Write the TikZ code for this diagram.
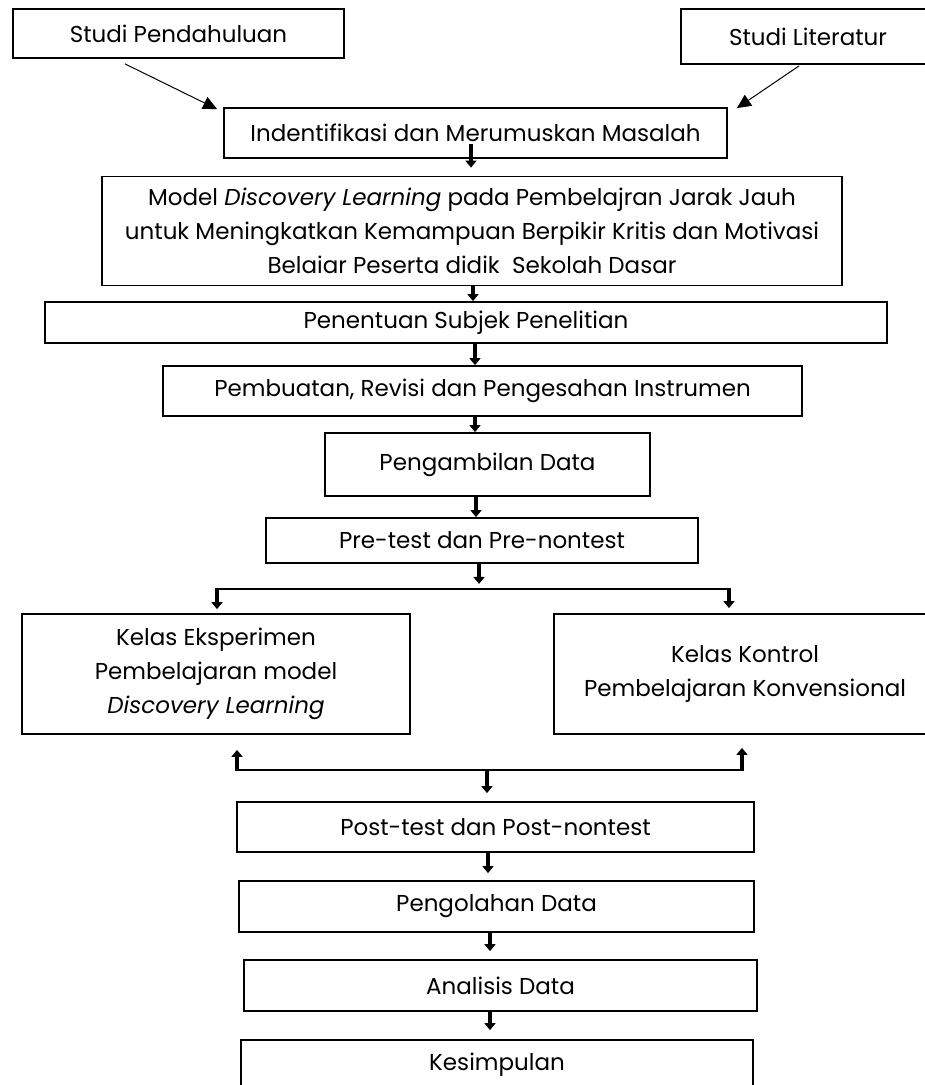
\documentclass[tikz,border=0pt]{standalone}
\usepackage{fontspec}
\setmainfont{Poppins}
\usetikzlibrary{arrows.meta}
\begin{document}
\begin{tikzpicture}[x=1pt,y=-1pt,
  box/.style={draw=black, line width=1.8pt, inner sep=0pt, align=center,
    font=\fontsize{23}{34}\selectfont},
  fat/.style={line width=4pt, -{Triangle[width=11pt,length=7pt]}},
  thin/.style={line width=1pt, -{Triangle[width=13pt,length=14pt]}},
  link/.style={line width=2pt}]
\useasboundingbox (0,0) rectangle (925,1085);
\fill[white] (0,0) rectangle (925,1085);
% boxes
\node[box, minimum width=331pt, minimum height=49pt] (sp) at (178.5,33.5) {Studi Pendahuluan};
\node[box, minimum width=254pt, minimum height=55pt] (sl) at (808,36.5) {Studi Literatur};
\node[box, minimum width=503pt, minimum height=50pt] (ident) at (475.5,133) {Indentifikasi dan Merumuskan Masalah};
\node[box, minimum width=740pt, minimum height=109pt] (model) at (472,231) {Model \textit{Discovery Learning} pada Pembelajran Jarak Jauh\\untuk Meningkatkan Kemampuan Berpikir Kritis dan Motivasi\\Belaiar Peserta didik\ \ Sekolah Dasar};
\node[box, minimum width=842pt, minimum height=41pt] (pen) at (466,322.5) {Penentuan Subjek Penelitian};
\node[box, minimum width=639pt, minimum height=50pt] (pemb) at (482.5,391) {Pembuatan, Revisi dan Pengesahan Instrumen};
\node[box, minimum width=325pt, minimum height=63pt] (peng) at (487.5,464.5) {\raisebox{5pt}{Pengambilan Data}};
\node[box, minimum width=432pt, minimum height=45pt] (pre) at (482,540.5) {Pre-test dan Pre-nontest};
\node[box, minimum width=388pt, minimum height=120pt] (ke) at (216,674) {Kelas Eksperimen\\Pembelajaran model\\\textit{Discovery Learning}};
\node[box, minimum width=382pt, minimum height=120pt] (kk) at (745,674) {Kelas Kontrol\\Pembelajaran Konvensional};
\node[box, minimum width=517pt, minimum height=50pt] (post) at (495.5,827) {Post-test dan Post-nontest};
\node[box, minimum width=515pt, minimum height=51pt] (pgl) at (496.5,906.5) {Pengolahan Data};
\node[box, minimum width=513pt, minimum height=51pt] (ana) at (500.5,985.5) {Analisis Data};
\node[box, minimum width=512pt, minimum height=50pt] (kes) at (497,1065) {Kesimpulan};
% junction coordinates
\coordinate (bl) at (217,589);
\coordinate (br) at (729,589);
\coordinate (ml) at (237,770);
\coordinate (mr) at (742,770);
\coordinate (mm) at (487,770);
% connectors
\draw[thin] ([xshift=-53.5pt,yshift=-5pt]sp.south) -- ([xshift=-6pt,yshift=-2pt]ident.north west);
\draw[thin] ([xshift=-9pt,yshift=-1pt]sl.south) -- ([xshift=9pt,yshift=-1pt]ident.north east);
\draw[fat] ([xshift=-4.5pt,yshift=15pt]ident.south) -- ([xshift=-1pt,yshift=8pt]model.north);
\draw[fat] ([xshift=1pt]model.south) -- ([xshift=7pt]pen.north);
\draw[fat] ([xshift=9pt]pen.south) -- ([xshift=-7.5pt]pemb.north);
\draw[fat] ([xshift=-7.5pt]pemb.south) -- ([xshift=-12.5pt]peng.north);
\draw[fat] ([xshift=-11.5pt]peng.south) -- ([xshift=-6pt]pre.north);
\draw[fat] ([xshift=-3pt]pre.south) -- ([xshift=-3pt,yshift=-20pt]pre.south);
\draw[link] (bl) -- (br);
\draw[fat] ([yshift=1pt]bl) -- ([xshift=1pt,yshift=4pt]ke.north);
\draw[fat] ([yshift=1pt]br) -- ([xshift=-16pt,yshift=5pt]kk.north);
\draw[link] (ml) -- (mr);
\draw[fat] ([yshift=-1pt]ml) -- ([xshift=21pt,yshift=-15pt]ke.south);
\draw[fat] ([yshift=-1pt]mr) -- ([xshift=-3pt,yshift=-13pt]kk.south);
\draw[fat] ([yshift=1pt]mm) -- ([xshift=-8.5pt,yshift=8pt]post.north);
\draw[fat] ([xshift=-7.5pt]post.south) -- ([xshift=-8.5pt,yshift=7pt]pgl.north);
\draw[fat] ([xshift=-6.5pt]pgl.south) -- ([xshift=-10.5pt,yshift=8pt]ana.north);
\draw[fat] ([xshift=-10.5pt]ana.south) -- ([xshift=-7pt,yshift=9pt]kes.north);
\end{tikzpicture}
\end{document}
